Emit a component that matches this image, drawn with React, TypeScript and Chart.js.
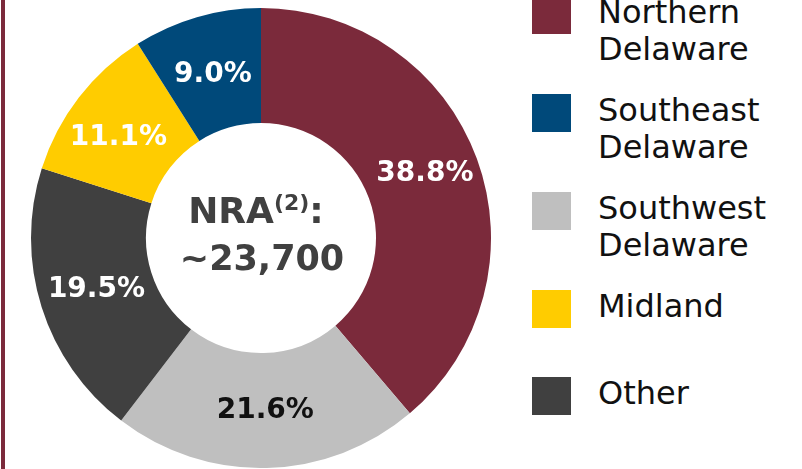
import React, { useEffect, useRef } from "react";
import { Chart, registerables } from "chart.js";

Chart.register(...registerables);

// ---- data ----
const categories = ["Northern Delaware", "Southwest Delaware", "Other", "Midland", "Southeast Delaware"];
const shares = [38.8, 21.6, 19.5, 11.1, 9.0];
const sliceColors = ["#7B2A3B", "#BFBFBF", "#404040", "#FFCC00", "#00497A"];
const labelColors = ["#FFFFFF", "#111111", "#FFFFFF", "#FFFFFF", "#FFFFFF"];
const legendOrder = ["Northern Delaware", "Southeast Delaware", "Southwest Delaware", "Midland", "Other"];
const legendLines: string[][] = [["Northern", "Delaware"], ["Southeast", "Delaware"], ["Southwest", "Delaware"], ["Midland"], ["Other"]];
const centerTitle = "NRA";
const centerSup = "(2)";
const centerValue = "~23,700";

// ---- layout (styling only) ----
const labelNudge: [number, number][] = [[2, -5], [0, 0], [0, 0], [-6, 5], [0, 2]];
const legendTops = [-4, 94, 192, 290, 377];

const FONT = "'DejaVu Sans', sans-serif";

const labelPlugin = {
  id: "sliceLabels",
  afterDatasetsDraw(chart: any) {
    const ctx = chart.ctx;
    const meta = chart.getDatasetMeta(0);
    ctx.save();
    ctx.textAlign = "center";
    ctx.textBaseline = "middle";
    ctx.font = `bold 28px ${FONT}`;
    meta.data.forEach((arc: any, i: number) => {
      const p = arc.tooltipPosition();
      ctx.fillStyle = labelColors[i];
      ctx.fillText(shares[i].toFixed(1) + "%", p.x + labelNudge[i][0], p.y + labelNudge[i][1]);
    });
    // center text
    const a = meta.data[0];
    const cx = a.x;
    const cy = a.y;
    ctx.fillStyle = "#404040";
    ctx.textBaseline = "alphabetic";
    ctx.textAlign = "left";
    const bigFont = `bold 36px ${FONT}`;
    const supFont = `bold 22px ${FONT}`;
    ctx.font = bigFont;
    const w1 = ctx.measureText(centerTitle).width;
    const w3 = ctx.measureText(":").width;
    ctx.font = supFont;
    const w2 = ctx.measureText(centerSup).width;
    const total = w1 + w2 + w3;
    let x = cx - total / 2 - 5;
    const base1 = cy - 15;
    ctx.font = bigFont;
    ctx.fillText(centerTitle, x, base1);
    x += w1;
    ctx.font = supFont;
    ctx.fillText(centerSup, x, base1 - 13);
    x += w2;
    ctx.font = bigFont;
    ctx.fillText(":", x, base1);
    ctx.textAlign = "center";
    ctx.font = `bold 35px ${FONT}`;
    ctx.fillText(centerValue, cx + 1, cy + 32);
    ctx.restore();
  },
};

export default function App() {
  const canvasRef = useRef<HTMLCanvasElement | null>(null);

  useEffect(() => {
    if (!canvasRef.current) return;
    const chart = new Chart(canvasRef.current, {
      type: "doughnut",
      data: {
        labels: categories,
        datasets: [
          {
            data: shares,
            backgroundColor: sliceColors,
            borderWidth: 0,
          },
        ],
      },
      options: {
        responsive: false,
        maintainAspectRatio: false,
        animation: false,
        cutout: "50%",
        layout: { padding: 0 },
        plugins: {
          legend: { display: false },
          tooltip: { enabled: false },
        },
      },
      plugins: [labelPlugin],
    });
    return () => chart.destroy();
  }, []);

  return (
    <div
      style={{
        position: "fixed",
        left: 0,
        top: 0,
        width: 802,
        height: 469,
        background: "#FFFFFF",
        overflow: "hidden",
      }}
    >
      <div style={{ position: "absolute", left: 1, top: 0, width: 4, height: 469, background: "#7B2A3B" }} />
      <canvas
        ref={canvasRef}
        width={460}
        height={460}
        style={{ position: "absolute", left: 31, top: 8, width: 460, height: 460 }}
      />
      {legendOrder.map((name, i) => {
        const idx = categories.indexOf(name);
        return (
          <div key={name} style={{ position: "absolute", left: 532, top: legendTops[i] }}>
            <div style={{ position: "absolute", left: 0, top: 0, width: 39, height: 38, background: sliceColors[idx] }} />
            <div
              style={{
                position: "absolute",
                left: 66,
                top: -2,
                fontFamily: FONT,
                fontSize: 32,
                lineHeight: "37px",
                color: "#111111",
                whiteSpace: "nowrap",
              }}
            >
              {legendLines[i].map((l) => (
                <div key={l}>{l}</div>
              ))}
            </div>
          </div>
        );
      })}
    </div>
  );
}
